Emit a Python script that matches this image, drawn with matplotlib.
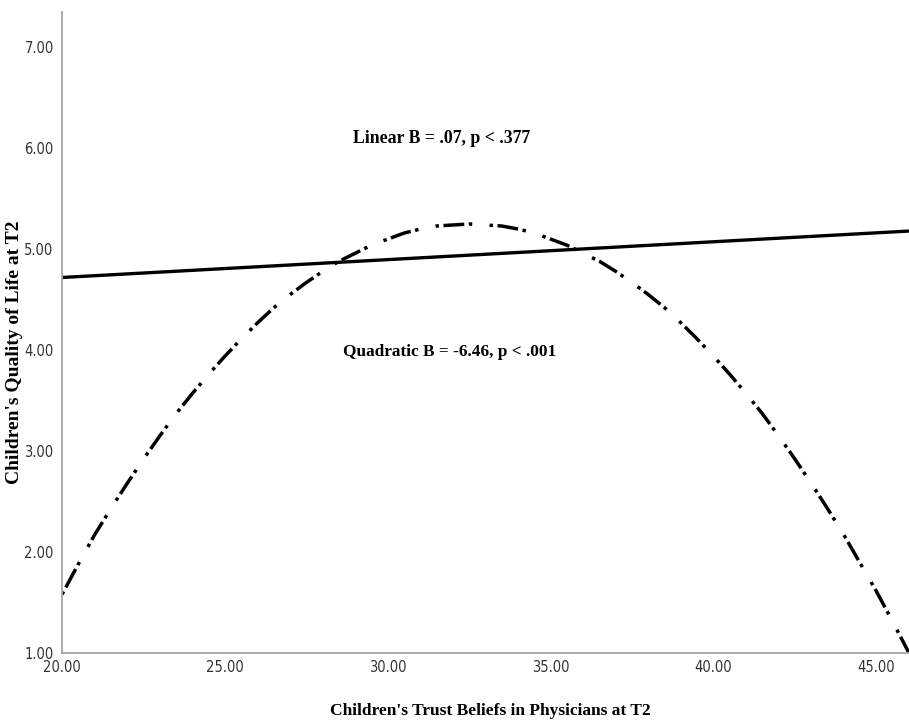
import matplotlib
matplotlib.use("Agg")
import matplotlib.pyplot as plt
from matplotlib import font_manager

# ---- data ----
x_vals = [20, 20.5, 21, 21.5, 22, 22.5, 23, 23.5, 24, 24.5, 25, 25.5, 26, 26.5,
          27, 27.5, 28, 28.5, 29, 29.5, 30, 30.5, 31, 31.5, 32, 32.5, 33, 33.5,
          34, 34.5, 35, 35.5, 36, 36.5, 37, 37.5, 38, 38.5, 39, 39.5, 40, 40.5,
          41, 41.5, 42, 42.5, 43, 43.5, 44, 44.5, 45, 45.5, 46]
quad_y = [1.58, 1.88, 2.17, 2.43, 2.68, 2.92, 3.15, 3.37, 3.57, 3.76, 3.94,
          4.11, 4.27, 4.42, 4.55, 4.67, 4.78, 4.88, 4.96, 5.04, 5.10, 5.16,
          5.20, 5.23, 5.24, 5.25, 5.24, 5.23, 5.20, 5.16, 5.10, 5.04, 4.96,
          4.88, 4.78, 4.67, 4.55, 4.42, 4.27, 4.11, 3.94, 3.76, 3.57, 3.37,
          3.15, 2.92, 2.68, 2.43, 2.17, 1.89, 1.61, 1.31, 1.00]
lin_x = [20, 46]
lin_y = [4.72, 5.18]

x_ticks = [20, 25, 30, 35, 40, 45]
x_tick_labels = ["20.00", "25.00", "30.00", "35.00", "40.00", "45.00"]
y_ticks = [1, 2, 3, 4, 5, 6, 7]
y_tick_labels = ["1.00", "2.00", "3.00", "4.00", "5.00", "6.00", "7.00"]

x_label = "Children's Trust Beliefs in Physicians at T2"
y_label = "Children's Quality of Life at T2"
lin_text = "Linear B = .07, p < .377"
quad_text = "Quadratic B = -6.46, p < .001"

# pick a narrow sans font if one is installed
fl = font_manager.fontManager.ttflist
names = {f.name for f in fl}
tick_kw = dict(fontfamily="Liberation Sans", fontsize=10)
if "Liberation Sans Narrow" in names:
    tick_kw = dict(fontfamily="Liberation Sans Narrow", fontsize=11.5)
elif any(f.name == "DejaVu Sans" and str(f.stretch) in ("condensed", "semi-condensed")
         for f in fl):
    tick_kw = dict(fontfamily="DejaVu Sans", fontstretch="condensed", fontsize=10.5)
serif = "Liberation Serif"

fig = plt.figure(figsize=(9.09, 7.23), dpi=100)
ax = fig.add_axes([62 / 909, 70 / 723, 847 / 909, 641 / 723])

ax.plot(lin_x, lin_y, color="black", lw=2.4, solid_capstyle="butt")
ax.plot(x_vals, quad_y, color="black", lw=2.5,
        linestyle=(0, (1, 1.3, 6, 1.3, 1, 5.0)), dash_capstyle="butt")

ax.set_xlim(20, 46)
ax.set_ylim(1, 7.35)

ax.set_xticks(x_ticks)
ax.set_xticklabels(x_tick_labels, color="#333333", **tick_kw)
ax.set_yticks(y_ticks)
ax.set_yticklabels(y_tick_labels, color="#333333", **tick_kw)
ax.tick_params(axis="both", length=0)
ax.tick_params(axis="y", pad=6)
ax.tick_params(axis="x", pad=5)

for s in ["top", "right"]:
    ax.spines[s].set_visible(False)
for s in ["left", "bottom"]:
    ax.spines[s].set_color("#a6a6a6")
    ax.spines[s].set_linewidth(1.3)

fig.text(490 / 909, 1 - 711 / 723, x_label, ha="center", va="center",
         fontfamily=serif, fontweight="bold", fontsize=12.5)
fig.text(15 / 909, 1 - 352 / 723, y_label, ha="center", va="center",
         rotation=90, fontfamily=serif, fontweight="bold", fontsize=14)

ax.text(31.66, 6.10, lin_text, ha="center", va="center",
        fontfamily=serif, fontweight="bold", fontsize=12.8)
ax.text(31.9, 3.98, quad_text, ha="center", va="center",
        fontfamily=serif, fontweight="bold", fontsize=12.4)

fig.savefig("out.png", dpi=100)
